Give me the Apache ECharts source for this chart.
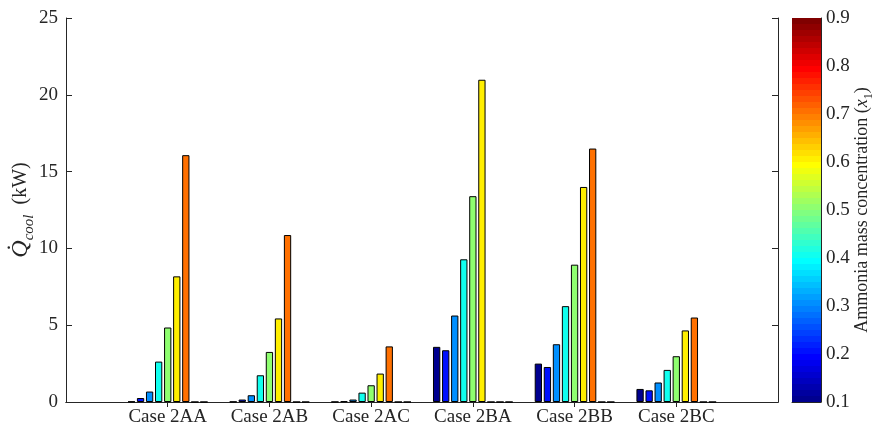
<!DOCTYPE html>
<html>
<head>
<meta charset="utf-8">
<script src="https://cdn.jsdelivr.net/npm/echarts@6/dist/echarts.min.js"></script>
<style>html,body{margin:0;padding:0;background:#fff;}#c{width:875px;height:431px;}</style>
</head>
<body>
<div id="c"></div>
<script>
// ---- data ----
var cases = ['Case 2AA', 'Case 2AB', 'Case 2AC', 'Case 2BA', 'Case 2BB', 'Case 2BC'];
var concentrations = [0.1, 0.2, 0.3, 0.4, 0.5, 0.6, 0.7, 0.8, 0.9];
var q01 = [0.03, 0.02, 0.01, 3.59, 2.50, 0.85];
var q02 = [0.26, 0.16, 0.05, 3.37, 2.28, 0.76];
var q03 = [0.68, 0.44, 0.16, 5.63, 3.76, 1.27];
var q04 = [2.63, 1.74, 0.61, 9.29, 6.24, 2.09];
var q05 = [4.85, 3.26, 1.09, 13.40, 8.94, 2.98];
var q06 = [8.18, 5.44, 1.85, 20.98, 14.00, 4.66];
var q07 = [16.07, 10.87, 3.62, 0, 16.50, 5.50];
var q08 = [0, 0, 0, 0, 0, 0];
var q09 = [0, 0, 0, 0, 0, 0];
var yTicks = [0, 5, 10, 15, 20, 25];
var cbTicks = [0.1, 0.2, 0.3, 0.4, 0.5, 0.6, 0.7, 0.8, 0.9];

var allQ = [q01, q02, q03, q04, q05, q06, q07, q08, q09];

// MATLAB jet(64)
function jet(k) { // k = 1..64
  var n = 16, u = [];
  for (var i = 1; i <= n; i++) u.push(i / n);
  for (var i = 0; i < n - 1; i++) u.push(1);
  for (var i = n; i >= 1; i--) u.push(i / n);
  function at(idx) { return (idx >= 1 && idx <= u.length) ? u[idx - 1] : 0; }
  var r = at(k - 24), g = at(k - 8), b = at(k + 8);
  function h(x) { var s = Math.round(x * 255).toString(16); return s.length < 2 ? '0' + s : s; }
  return '#' + h(r) + h(g) + h(b);
}
var cMin = cbTicks[0], cMax = cbTicks[cbTicks.length - 1];
function colorFor(v) {
  var k = Math.floor((v - cMin) / (cMax - cMin) * 64 + 1e-9) + 1;
  return jet(Math.min(64, Math.max(1, k)));
}

var cats = [''].concat(cases).concat(['']);
var font = 'Liberation Serif';
var txt = '#262626';

var series = [];
concentrations.forEach(function (c, i) {
  series.push({
    type: 'bar', xAxisIndex: 0, yAxisIndex: 0,
    name: String(c),
    data: ['-'].concat(allQ[i]).concat(['-']),
    barWidth: 7.3, barGap: '24%',
    itemStyle: { color: colorFor(c), borderColor: '#000', borderWidth: 1 },
    silent: true
  });
});
// colorbar (stacked segments)
series.push({ type: 'bar', xAxisIndex: 2, yAxisIndex: 2, stack: 'cb', data: [cMin], barWidth: '100%', itemStyle: { color: 'rgba(0,0,0,0)' }, silent: true });
var step = (cMax - cMin) / 64;
for (var k = 1; k <= 64; k++) {
  series.push({ type: 'bar', xAxisIndex: 2, yAxisIndex: 2, stack: 'cb', data: [step], barWidth: '100%', itemStyle: { color: jet(k) }, silent: true });
}

var chart = echarts.init(document.getElementById('c'), null, { renderer: 'canvas' });
chart.setOption({
  animation: false,
  backgroundColor: '#fff',
  grid: [
    { left: 66, top: 18, width: 712, height: 384, outerBoundsMode: 'none', containLabel: false },
    { left: 792, top: 18, width: 29, height: 384, outerBoundsMode: 'none', containLabel: false }
  ],
  xAxis: [
    { gridIndex: 0, type: 'category', data: cats, boundaryGap: false, position: 'bottom',
      axisLine: { lineStyle: { color: txt, width: 1 } },
      axisTick: { inside: true, length: 5, interval: function (i, v) { return v !== ''; }, lineStyle: { color: txt } },
      axisLabel: { color: txt, fontFamily: font, fontSize: 19, margin: 6, interval: 0 },
      splitLine: { show: false } },
    { gridIndex: 0, type: 'category', data: cats, boundaryGap: false, position: 'top',
      axisLine: { lineStyle: { color: txt, width: 1 } },
      axisTick: { inside: true, length: 5, interval: function (i, v) { return v !== ''; }, lineStyle: { color: txt } },
      axisLabel: { show: false }, splitLine: { show: false } },
    { gridIndex: 1, type: 'category', data: [''], show: true,
      axisLine: { lineStyle: { color: txt } }, axisTick: { show: false }, axisLabel: { show: false } }
  ],
  yAxis: [
    { gridIndex: 0, type: 'value', min: yTicks[0], max: yTicks[yTicks.length - 1], interval: 5, position: 'left',
      axisLine: { show: true, lineStyle: { color: txt, width: 1 } },
      axisTick: { show: true, inside: true, length: 6, lineStyle: { color: txt } },
      axisLabel: { color: txt, fontFamily: font, fontSize: 19, margin: 8 },
      splitLine: { show: false },
      name: '{q|Q\u0307}{s|cool}{n|  (kW)}', nameLocation: 'middle', nameRotate: 90, nameGap: 33,
      nameMoveOverlap: false,
      nameTextStyle: { color: txt, fontFamily: font, fontSize: 20,
        rich: {
          q: { fontFamily: font, fontStyle: 'italic', fontSize: 24, color: txt },
          s: { fontFamily: font, fontStyle: 'italic', fontSize: 15, color: txt, verticalAlign: 'bottom', padding: [0, 0, -4, 0] },
          n: { fontFamily: font, fontSize: 20, color: txt }
        } } },
    { gridIndex: 0, type: 'value', min: yTicks[0], max: yTicks[yTicks.length - 1], interval: 5, position: 'right',
      axisLine: { show: true, lineStyle: { color: txt, width: 1 } },
      axisTick: { show: true, inside: true, length: 6, lineStyle: { color: txt } },
      axisLabel: { show: false }, splitLine: { show: false } },
    { gridIndex: 1, type: 'value', min: cMin, max: cMax, interval: 0.1, position: 'right',
      axisLine: { show: true, lineStyle: { color: txt, width: 1 } },
      axisTick: { show: true, inside: true, length: 3, lineStyle: { color: txt } },
      axisLabel: { color: txt, fontFamily: font, fontSize: 19, margin: 5, formatter: function (v) { return v.toFixed(1); } },
      splitLine: { show: false },
      name: '{t|Ammonia mass concentration (}{x|x}{s|1}{t|)}', nameLocation: 'middle', nameRotate: 90, nameGap: 27,
      nameTextStyle: { color: txt, fontFamily: font, fontSize: 18,
        rich: {
          t: { fontFamily: font, fontSize: 18, color: txt },
          x: { fontFamily: font, fontStyle: 'italic', fontSize: 18, color: txt },
          s: { fontFamily: font, fontSize: 12, color: txt, verticalAlign: 'bottom', padding: [0, 0, -3, 0] }
        } } }
  ],
  series: series
});
</script>
</body>
</html>
